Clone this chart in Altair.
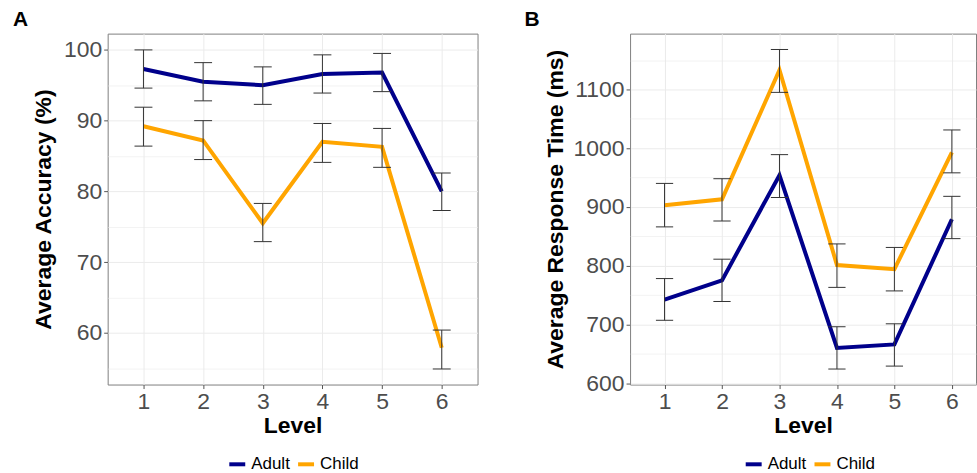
import altair as alt
import pandas as pd

FONT = "Liberation Sans"

levels = [1, 2, 3, 4, 5, 6]
groups = ["Adult", "Child"]
colors = ["#00008B", "#FFA500"]

# Panel A: accuracy (%)
acc_adult = [97.3, 95.5, 95.0, 96.6, 96.8, 80.0]
acc_adult_hi = [100.0, 98.2, 97.6, 99.3, 99.5, 82.6]
acc_adult_lo = [94.6, 92.8, 92.3, 93.9, 94.1, 77.3]
acc_child = [89.2, 87.2, 75.5, 87.0, 86.3, 57.9]
acc_child_hi = [91.9, 90.0, 78.3, 89.6, 88.9, 60.4]
acc_child_lo = [86.4, 84.5, 72.9, 84.1, 83.4, 54.9]
acc_ticks = [55, 60, 65, 70, 75, 80, 85, 90, 95, 100]

# Panel B: response time (ms)
rt_adult = [742, 775, 954, 660, 666, 879]
rt_adult_hi = [778, 811, 989, 696, 701, 918]
rt_adult_lo = [707, 739, 916, 624, 629, 846]
rt_child = [903, 913, 1133, 801, 794, 993]
rt_child_hi = [940, 948, 1168, 837, 831, 1031]
rt_child_lo = [866, 876, 1095, 763, 757, 958]
rt_ticks = [600, 650, 700, 750, 800, 850, 900, 950, 1000, 1050, 1100, 1150]


def make_df(a, a_lo, a_hi, c, c_lo, c_hi):
    rows = []
    for g, m, lo, hi in [("Adult", a, a_lo, a_hi), ("Child", c, c_lo, c_hi)]:
        for i, lv in enumerate(levels):
            rows.append({"level": lv, "group": g, "mean": m[i], "lo": lo[i], "hi": hi[i]})
    return pd.DataFrame(rows)


df_a = make_df(acc_adult, acc_adult_lo, acc_adult_hi, acc_child, acc_child_lo, acc_child_hi)
df_b = make_df(rt_adult, rt_adult_lo, rt_adult_hi, rt_child, rt_child_lo, rt_child_hi)


def panel(df, ytitle, ydomain, yticks, major, xdomain, width, label, label_dx, legend_x, ytp):
    test = f"datum.value % {major} === 0"
    xscale = alt.Scale(domain=xdomain, nice=False, zero=False)
    yscale = alt.Scale(domain=ydomain, nice=False, zero=False)
    xaxis = alt.Axis(values=levels, title="Level", grid=True, format="d")
    yaxis = alt.Axis(
        values=yticks,
        title=ytitle,
        grid=True,
        format="d",
        titlePadding=ytp,
        labelExpr=f"{test} ? datum.label : ''",
        tickOpacity={"condition": {"test": test, "value": 1}, "value": 0},
        gridWidth={"condition": {"test": test, "value": 1}, "value": 0.6},
    )
    base = alt.Chart(df)
    color = alt.Color(
        "group:N",
        scale=alt.Scale(domain=groups, range=colors),
        legend=alt.Legend(
            orient="none",
            legendX=legend_x,
            legendY=422,
            direction="horizontal",
            title=None,
            symbolType="stroke",
            symbolSize=256,
            symbolStrokeWidth=4,
            labelFontSize=17,
            labelFont=FONT,
            labelColor="black",
            labelOffset=4,
            columnPadding=0,
            padding=0,
        ),
    )
    lines = base.mark_line(strokeWidth=4).encode(
        x=alt.X("level:Q", scale=xscale, axis=xaxis),
        y=alt.Y("mean:Q", scale=yscale, axis=yaxis),
        color=color,
        detail="group:N",
    )
    vbar = base.mark_rule(color="#333333", strokeWidth=1).encode(
        x=alt.X("level:Q", scale=xscale, axis=xaxis),
        y=alt.Y("lo:Q", scale=yscale, axis=yaxis),
        y2="hi:Q",
    )
    caps_hi = base.transform_calculate(
        xa="datum.level - 0.15", xb="datum.level + 0.15"
    ).mark_rule(color="#333333", strokeWidth=1).encode(
        x=alt.X("xa:Q", scale=xscale, axis=xaxis),
        x2="xb:Q",
        y=alt.Y("hi:Q", scale=yscale, axis=yaxis),
    )
    caps_lo = base.transform_calculate(
        xa="datum.level - 0.15", xb="datum.level + 0.15"
    ).mark_rule(color="#333333", strokeWidth=1).encode(
        x=alt.X("xa:Q", scale=xscale, axis=xaxis),
        x2="xb:Q",
        y=alt.Y("lo:Q", scale=yscale, axis=yaxis),
    )
    return alt.layer(lines, vbar, caps_hi, caps_lo).properties(
        width=width,
        height=352,
        title=alt.TitleParams(
            label,
            anchor="start",
            frame="group",
            dx=label_dx,
            offset=-13,
            fontSize=21,
            fontWeight="bold",
            font=FONT,
            color="black",
            baseline="alphabetic",
        ),
    )


pa = panel(df_a, "Average Accuracy (%)", [52.7, 102.3], acc_ticks, 10,
           [0.4, 6.6], 371, "A", -95, 120, 8)
pb = panel(df_b, "Average Response Time (ms)", [597.6, 1195], rt_ticks, 100,
           [0.4, 6.42], 347, "B", -106, 114, 6)

chart = alt.hconcat(pa, pb, spacing=45).resolve_scale(
    color="independent", x="independent", y="independent"
).properties(
    padding={"left": 12, "top": 7, "right": 0, "bottom": 0}
).configure_view(
    stroke="#7F7F7F", strokeWidth=1
).configure_axis(
    domain=False,
    gridColor="#EBEBEB",
    tickColor="#555555",
    tickSize=4,
    labelFont=FONT,
    labelFontSize=23,
    labelColor="#4D4D4D",
    labelPadding=2,
    titleFont=FONT,
    titleFontSize=23,
    titleFontWeight="bold",
    titleColor="black",
).configure_axisX(
    titlePadding=1,
)

chart.save("out.html", embed_options={"renderer": "svg", "actions": False})
